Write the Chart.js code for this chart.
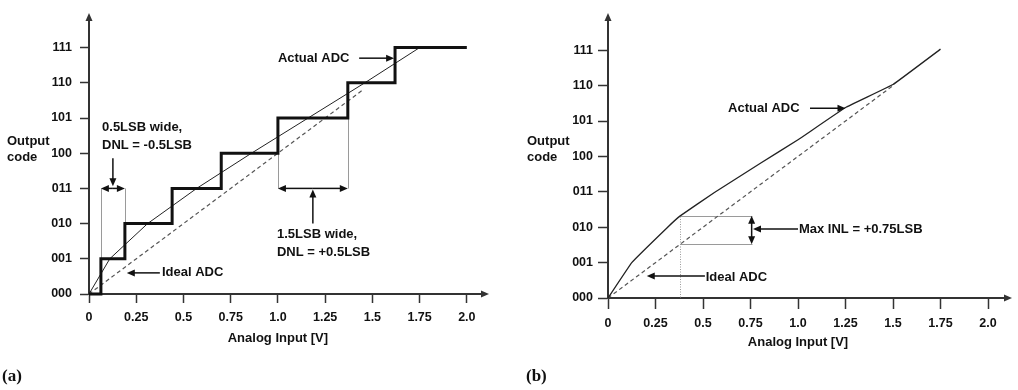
<!DOCTYPE html>
<html>
<head>
<meta charset="utf-8">
<script src="https://cdn.jsdelivr.net/npm/chart.js@4.4.1/dist/chart.umd.min.js"></script>
<style>
	html, body { margin: 0; padding: 0; background: #fff; }
	#wrap { position: relative; width: 1018px; height: 390px; }
	.panel { position: absolute; top: 0; width: 509px; height: 390px; }
</style>
</head>
<body>
<div id="wrap">
	<div class="panel" style="left:0"><canvas id="chartA" width="509" height="390"></canvas></div>
	<div class="panel" style="left:509px"><canvas id="chartB" width="509" height="390"></canvas></div>
</div>
<script>
// axis labels
const codeLabels = ['000', '001', '010', '011', '100', '101', '110', '111'];
const inputTicks = [0, 0.25, 0.5, 0.75, 1.0, 1.25, 1.5, 1.75, 2.0];
const inputTickLabels = ['0', '0.25', '0.5', '0.75', '1.0', '1.25', '1.5', '1.75', '2.0'];

// (a) actual ADC staircase: transition voltage -> code
const stairInput = [0, 0.063, 0.19, 0.44, 0.70, 1.0, 1.37, 1.62, 2.0];
const stairCode = [0, 1, 2, 3, 4, 5, 6, 7, 7];
// (a) thin line through the actual transitions
const fitInputA = [0, 0.11, 0.31, 0.57, 0.86, 1.16, 1.46, 1.75];
const fitCodeA = [0, 1, 2, 3, 4, 5, 6, 7];
// (a) ideal ADC
const idealInputA = [0, 1.45];
const idealCodeA = [0, 5.8];

// (b) actual ADC transfer curve
const actualInputB = [0, 0.125, 0.31, 0.38, 0.56, 0.8, 1.0, 1.25, 1.5, 1.75];
const actualCodeB = [0, 1, 1.98, 2.32, 2.98, 3.8, 4.47, 5.38, 6.03, 7.03];
// (b) ideal ADC
const idealInputB = [0, 1.5];
const idealCodeB = [0, 6];

const FONT = "'Liberation Sans', Arial, sans-serif";

const toPoints = (xs, ys) => xs.map((x, i) => ({ x: x, y: ys[i] }));

// callouts, placed in data units (volts, code)
const notesA = {
	texts: [
		{ at: [1.0, 6.7], lines: ['Actual ADC'] },
		{ at: [0.069, 4.72], lines: ['0.5LSB wide,', 'DNL = -0.5LSB'] },
		{ at: [0.995, 1.68], lines: ['1.5LSB wide,', 'DNL = +0.5LSB'] },
		{ at: [0.386, 0.6], lines: ['Ideal ADC'] }
	],
	arrows: [
		{ from: [1.43, 6.7], to: [1.615, 6.7] },
		{ from: [0.1265, 3.86], to: [0.1265, 3.06] },
		{ from: [0.1265, 3.0], to: [0.063, 3.0], both: true },
		{ from: [1.185, 2.0], to: [1.185, 2.97] },
		{ from: [1.185, 3.0], to: [1.0, 3.0], both: true },
		{ from: [0.375, 0.6], to: [0.2, 0.6] }
	],
	guides: [
		{ from: [0.063, 3.0], to: [0.063, 1.0] },
		{ from: [0.19, 3.0], to: [0.19, 2.0] },
		{ from: [1.0, 4.0], to: [1.0, 3.0] },
		{ from: [1.37, 5.0], to: [1.37, 3.0] }
	],
	panel: '(a)'
};

const notesB = {
	texts: [
		{ at: [0.632, 5.36], lines: ['Actual ADC'] },
		{ at: [0.514, 0.58], lines: ['Ideal ADC'] },
		{ at: [1.005, 1.94], lines: ['Max INL = +0.75LSB'] }
	],
	arrows: [
		{ from: [1.063, 5.36], to: [1.25, 5.36] },
		{ from: [0.51, 0.62], to: [0.204, 0.62] },
		{ from: [0.756, 1.92], to: [0.756, 2.32], both: true },
		{ from: [1.0, 1.95], to: [0.763, 1.95] }
	],
	guides: [
		{ from: [0.38, 2.32], to: [0.756, 2.32] },
		{ from: [0.38, 1.52], to: [0.756, 1.52] },
		{ from: [0.38, 2.32], to: [0.38, 0], dash: [1, 1.5] }
	],
	panel: '(b)'
};

const arrowHead = (ctx, x1, y1, x2, y2, len, half) => {
	const a = Math.atan2(y2 - y1, x2 - x1);
	const bx = x2 - len * Math.cos(a), by = y2 - len * Math.sin(a);
	ctx.beginPath();
	ctx.moveTo(x2, y2);
	ctx.lineTo(bx + half * Math.sin(a), by - half * Math.cos(a));
	ctx.lineTo(bx - half * Math.sin(a), by + half * Math.cos(a));
	ctx.closePath();
	ctx.fill();
};

// line with a filled head at (x2, y2); "both" mirrors it around the start point
const drawArrow = (ctx, x1, y1, x2, y2, both) => {
	const a = Math.atan2(y2 - y1, x2 - x1);
	const len = 8;
	ctx.beginPath();
	ctx.moveTo(x1, y1);
	ctx.lineTo(x2 - (len - 1) * Math.cos(a), y2 - (len - 1) * Math.sin(a));
	ctx.stroke();
	arrowHead(ctx, x1, y1, x2, y2, len, 3.5);
	if (both) {
		const x0 = 2 * x1 - x2, y0 = 2 * y1 - y2;
		ctx.beginPath();
		ctx.moveTo(x1, y1);
		ctx.lineTo(x0 + (len - 1) * Math.cos(a), y0 + (len - 1) * Math.sin(a));
		ctx.stroke();
		arrowHead(ctx, x1, y1, x0, y0, len, 3.5);
	}
};

const decor = (notes, layout) => ({
	id: 'decor',
	beforeDatasetsDraw(chart) {
		const { ctx } = chart;
		const xs = chart.scales.x, ys = chart.scales.y;
		ctx.save();
		notes.guides.forEach(g => {
			ctx.strokeStyle = '#9a9a9a';
			ctx.lineWidth = 1;
			ctx.setLineDash(g.dash || []);
			ctx.beginPath();
			ctx.moveTo(Math.round(xs.getPixelForValue(g.from[0])) + 0.5, Math.round(ys.getPixelForValue(g.from[1])) + 0.5);
			ctx.lineTo(Math.round(xs.getPixelForValue(g.to[0])) + 0.5, Math.round(ys.getPixelForValue(g.to[1])) + 0.5);
			ctx.stroke();
		});
		ctx.restore();
	},
	afterDraw(chart) {
		const { ctx, chartArea: { left, right, top, bottom } } = chart;
		const xs = chart.scales.x, ys = chart.scales.y;
		ctx.save();
		ctx.fillStyle = '#333';

		// axis arrow heads
		arrowHead(ctx, left, top + 10, left, top - 8, 8, 3.5);
		arrowHead(ctx, right - 10, bottom, right + 8, bottom, 8, 3.5);

		ctx.fillStyle = '#111';
		ctx.strokeStyle = '#111';
		ctx.lineWidth = 1.5;
		notes.arrows.forEach(a => {
			drawArrow(ctx,
				xs.getPixelForValue(a.from[0]), ys.getPixelForValue(a.from[1]),
				xs.getPixelForValue(a.to[0]), ys.getPixelForValue(a.to[1]), a.both);
		});

		ctx.font = 'bold 13px ' + FONT;
		ctx.textAlign = 'left';
		ctx.textBaseline = 'middle';
		notes.texts.forEach(t => {
			const x = xs.getPixelForValue(t.at[0]);
			const y = ys.getPixelForValue(t.at[1]);
			t.lines.forEach((line, i) => ctx.fillText(line, x, y + i * 18));
		});

		// axis titles
		ctx.fillText('Output', layout.titleLeft, 141);
		ctx.fillText('code', layout.titleLeft, 157);
		ctx.textAlign = 'center';
		ctx.fillText('Analog Input [V]', xs.getPixelForValue(1.0), bottom + 44);

		// panel label
		ctx.textAlign = 'left';
		ctx.font = 'bold 17px "Liberation Serif", "Times New Roman", serif';
		ctx.fillText(notes.panel, layout.panelLeft, 377);
		ctx.restore();
	}
});

const makeChart = (id, datasets, notes, layout) => {
	const ctx = document.getElementById(id).getContext('2d');
	const axisColor = '#333';
	const tickFont = { family: FONT, size: 12.5, weight: 'bold' };

	return new Chart(ctx, {
		type: 'line',
		data: { datasets: datasets },
		options: {
			responsive: false,
			animation: false,
			layout: { padding: { left: 0, top: layout.top, right: layout.right, bottom: 0 } },
			plugins: { legend: { display: false }, tooltip: { enabled: false } },
			elements: { point: { radius: 0 } },
			scales: {
				x: {
					type: 'linear',
					min: 0,
					max: layout.xMax,
					afterBuildTicks: (axis) => { axis.ticks = inputTicks.map(v => ({ value: v })); },
					afterFit: (axis) => { axis.height = layout.xHeight; },
					grid: { drawOnChartArea: false, drawTicks: true, tickLength: layout.xTick, tickColor: axisColor, tickWidth: 1.5 },
					border: { display: true, color: axisColor, width: 2 },
					ticks: {
						autoSkip: false, maxRotation: 0, padding: layout.xPad,
						color: '#111', font: tickFont,
						callback: (v, i) => inputTickLabels[i]
					}
				},
				y: {
					type: 'linear',
					min: 0,
					max: layout.yMax,
					afterBuildTicks: (axis) => { axis.ticks = codeLabels.map((c, i) => ({ value: i })); },
					afterFit: (axis) => { axis.width = layout.yWidth; },
					grid: { drawOnChartArea: false, drawTicks: true, tickLength: layout.yTick, tickColor: axisColor, tickWidth: 1.5 },
					border: { display: true, color: axisColor, width: 2 },
					ticks: {
						autoSkip: false, padding: layout.yPad,
						color: '#111', font: tickFont,
						callback: (v) => codeLabels[v]
					}
				}
			}
		},
		plugins: [decor(notes, layout)]
	});
};

// (a) DNL
makeChart('chartA', [
	{
		data: toPoints(stairInput, stairCode),
		borderColor: '#111', borderWidth: 3, stepped: 'before', clip: false
	},
	{
		data: toPoints(fitInputA, fitCodeA),
		borderColor: '#222', borderWidth: 1, clip: false
	},
	{
		data: toPoints(idealInputA, idealCodeA),
		borderColor: '#555', borderWidth: 1.2, borderDash: [4, 3], clip: false
	}
], notesA, {
	top: 21, right: 28, xHeight: 96, yWidth: 89,
	xMax: 2.075, yMax: 7.756,
	xTick: 9, xPad: 7, yTick: 9, yPad: 8,
	titleLeft: 7, panelLeft: 2
});

// (b) INL
makeChart('chartB', [
	{
		data: toPoints(actualInputB, actualCodeB),
		borderColor: '#222', borderWidth: 1.3, tension: 0.05, clip: false
	},
	{
		data: toPoints(idealInputB, idealCodeB),
		borderColor: '#555', borderWidth: 1.2, borderDash: [4, 3], clip: false
	}
], notesB, {
	top: 21, right: 14, xHeight: 92, yWidth: 99,
	xMax: 2.084, yMax: 7.825,
	xTick: 11, xPad: 7, yTick: 10, yPad: 5,
	titleLeft: 18, panelLeft: 17
});
</script>
</body>
</html>
